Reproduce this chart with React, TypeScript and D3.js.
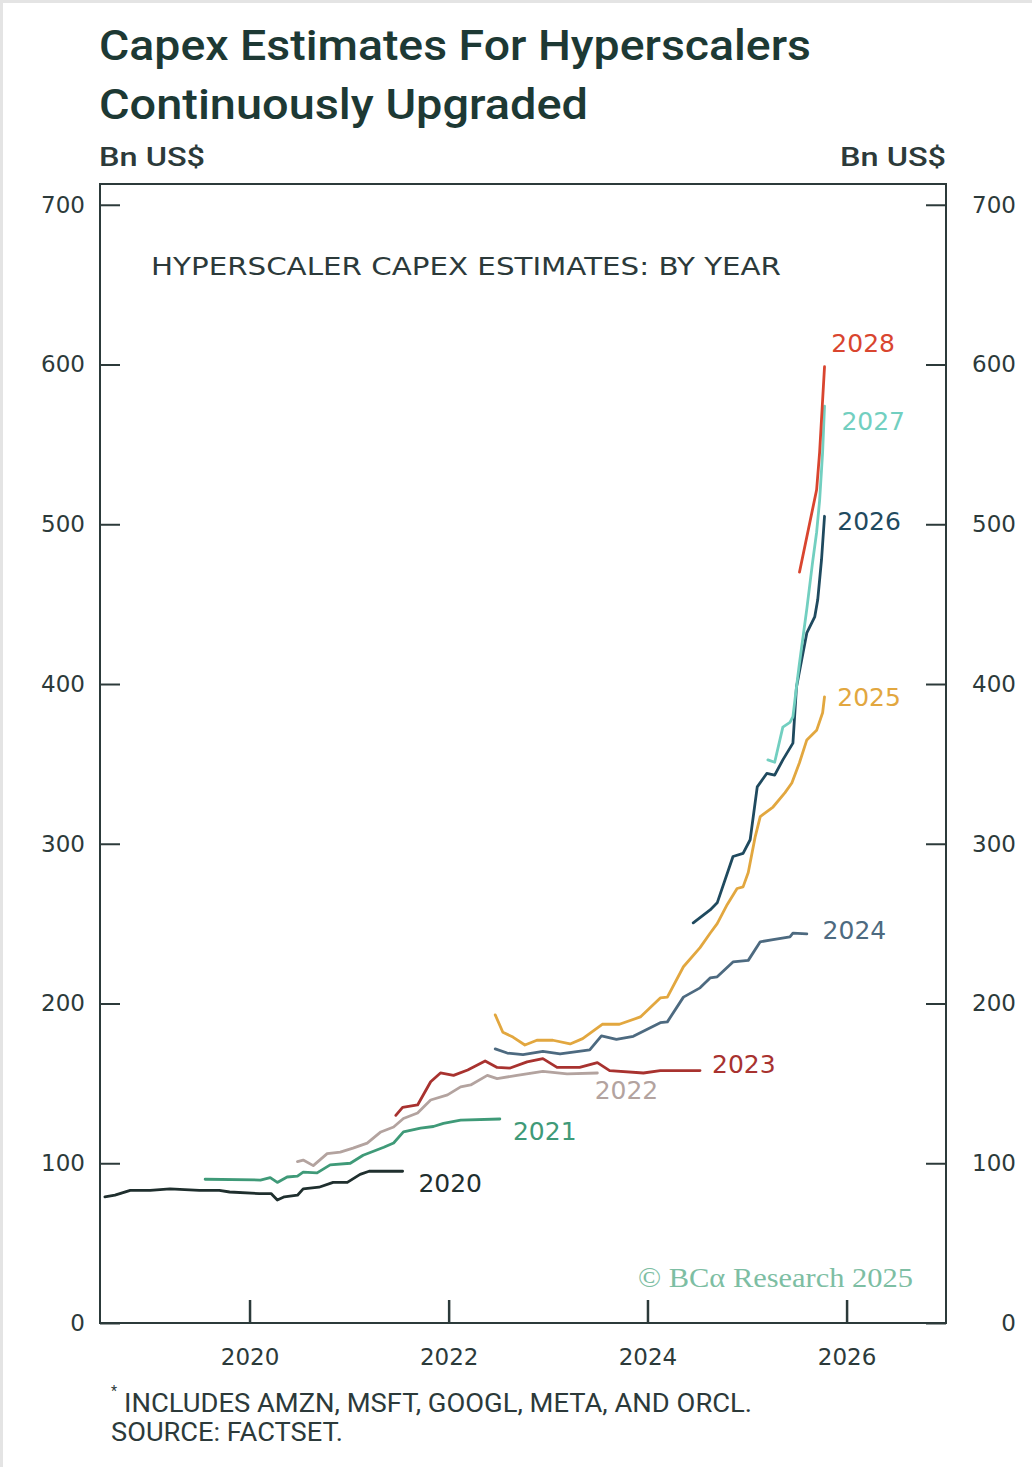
import React, { useEffect, useRef } from 'react';
import * as d3 from 'd3';

const WIDTH = 1032;
const HEIGHT = 1467;
const margin = { top: 184, right: 86, bottom: 144, left: 100 };

// estimate vintages (the fiscal year each line is forecasting)
const vintages = ['2020', '2021', '2022', '2023', '2024', '2025', '2026', '2027', '2028'];

const vintageColors = ['#1f2f2e', '#3f9a78', '#b3a39f', '#a8322f', '#4d6a80', '#e2a73f', '#1f4a5f', '#72cfc0', '#d9452f'];

const est2020: [string, number][] = [
  ['2018-07-19', 79], ['2018-08-25', 80], ['2018-10-20', 83], ['2019-01-01', 83], ['2019-03-15', 84],
  ['2019-07-01', 83], ['2019-09-12', 83], ['2019-10-20', 82], ['2020-02-06', 81], ['2020-03-20', 81],
  ['2020-04-12', 77], ['2020-05-08', 79], ['2020-06-25', 80], ['2020-07-16', 84], ['2020-09-12', 85],
  ['2020-11-03', 88], ['2020-12-25', 88], ['2021-02-10', 93], ['2021-03-15', 95], ['2021-07-16', 95]
];

const est2021: [string, number][] = [
  ['2019-07-22', 90], ['2020-02-10', 89.5], ['2020-03-17', 91], ['2020-04-12', 88], ['2020-05-18', 91.4],
  ['2020-06-25', 92], ['2020-07-16', 94.5], ['2020-09-05', 94], ['2020-10-23', 99], ['2021-01-05', 100],
  ['2021-02-21', 105], ['2021-05-08', 110], ['2021-06-13', 112.7], ['2021-07-19', 119.6], ['2021-09-20', 122],
  ['2021-11-06', 123], ['2021-12-13', 125], ['2022-02-14', 127], ['2022-07-08', 127.7]
];

const est2022: [string, number][] = [
  ['2020-06-25', 101], ['2020-07-16', 102], ['2020-08-22', 98.5], ['2020-10-12', 106], ['2020-11-29', 107],
  ['2021-01-15', 109.5], ['2021-03-08', 112.6], ['2021-04-27', 119.6], ['2021-06-13', 122.7], ['2021-07-19', 128],
  ['2021-09-09', 131.5], ['2021-10-27', 139.6], ['2021-12-28', 142.8], ['2022-02-14', 147.8], ['2022-03-23', 149],
  ['2022-05-23', 155], ['2022-06-28', 153], ['2022-09-09', 155], ['2022-12-13', 157.5], ['2023-03-12', 156],
  ['2023-07-01', 156.5]
];

const est2023: [string, number][] = [
  ['2021-06-21', 130], ['2021-07-16', 135], ['2021-09-09', 136.5], ['2021-10-27', 151], ['2021-12-02', 156.5],
  ['2022-01-19', 155], ['2022-03-12', 158.4], ['2022-05-15', 164], ['2022-06-28', 160], ['2022-08-15', 159.6],
  ['2022-10-16', 163.5], ['2022-12-13', 165.5], ['2023-02-03', 160], ['2023-04-27', 160], ['2023-07-01', 163],
  ['2023-08-15', 158], ['2023-12-17', 156.5], ['2024-02-17', 158], ['2024-07-12', 158]
];

const est2024: [string, number][] = [
  ['2022-06-21', 171.6], ['2022-08-04', 169], ['2022-10-01', 168], ['2022-12-13', 170], ['2023-02-14', 168.4],
  ['2023-06-03', 171], ['2023-07-16', 179.7], ['2023-09-09', 177.5], ['2023-11-10', 179.5], ['2024-02-17', 188],
  ['2024-03-14', 188.5], ['2024-05-12', 204], ['2024-07-12', 209.8], ['2024-08-18', 216], ['2024-09-13', 216.7],
  ['2024-11-10', 226], ['2025-01-05', 227], ['2025-02-18', 238.6], ['2025-04-06', 240], ['2025-06-07', 241.7],
  ['2025-06-18', 244], ['2025-08-08', 243.6]
];

const est2025: [string, number][] = [
  ['2022-06-21', 192.9], ['2022-07-19', 182], ['2022-08-25', 179], ['2022-10-08', 174], ['2022-11-21', 177],
  ['2023-01-19', 177], ['2023-03-23', 174.7], ['2023-05-08', 178], ['2023-07-19', 187], ['2023-09-20', 187],
  ['2023-12-06', 191.6], ['2024-02-17', 203.5], ['2024-03-14', 204], ['2024-05-12', 223], ['2024-07-12', 235],
  ['2024-08-18', 244], ['2024-09-13', 250], ['2024-10-20', 262], ['2024-11-25', 272], ['2024-12-17', 273],
  ['2025-01-05', 282], ['2025-01-30', 304], ['2025-02-18', 317], ['2025-04-06', 323], ['2025-05-20', 332],
  ['2025-06-14', 338], ['2025-07-12', 350.7], ['2025-08-08', 365], ['2025-09-13', 371], ['2025-10-05', 382],
  ['2025-10-12', 392]
];

const est2026: [string, number][] = [
  ['2024-06-17', 250.5], ['2024-08-18', 258.6], ['2024-09-13', 263], ['2024-11-10', 292], ['2024-12-17', 294],
  ['2025-01-12', 302.5], ['2025-02-07', 335.6], ['2025-03-14', 344], ['2025-04-12', 343], ['2025-05-12', 352.5],
  ['2025-06-18', 363], ['2025-07-01', 398], ['2025-07-20', 415], ['2025-08-08', 432], ['2025-09-06', 442],
  ['2025-09-17', 452.7], ['2025-10-01', 477.8], ['2025-10-12', 505]
];

const est2027: [string, number][] = [
  ['2025-03-18', 352.5], ['2025-04-12', 351], ['2025-05-12', 373], ['2025-06-07', 376], ['2025-06-18', 379.5],
  ['2025-07-01', 398], ['2025-07-12', 413], ['2025-08-08', 447], ['2025-08-29', 476], ['2025-09-13', 495],
  ['2025-09-24', 515], ['2025-10-05', 545], ['2025-10-12', 574]
];

const est2028: [string, number][] = [
  ['2025-07-12', 470], ['2025-09-13', 521.6], ['2025-09-24', 545], ['2025-10-12', 598.6]
];

const estimates = [est2020, est2021, est2022, est2023, est2024, est2025, est2026, est2027, est2028];

// where each vintage name sits (date, value)
const labelAnchors: [string, number][] = [
  ['2021-09-12', 87.7], ['2022-08-25', 120.2], ['2023-06-21', 145.9], ['2024-08-25', 162.2], ['2025-10-05', 246.1],
  ['2025-11-28', 392], ['2025-11-28', 502.2], ['2025-12-13', 564.8], ['2025-11-06', 613.6]
];

const yTicks = [0, 100, 200, 300, 400, 500, 600, 700];
const xTickYears = ['2020-01-01', '2022-01-01', '2024-01-01', '2026-01-01'];

const parseDate = d3.timeParse('%Y-%m-%d');

const App: React.FC = () => {
  const svgRef = useRef<SVGSVGElement>(null);

  useEffect(() => {
    if (!svgRef.current) return;
    const svg = d3.select(svgRef.current);
    svg.selectAll('*').remove();

    const x0 = margin.left;
    const x1 = WIDTH - margin.right;
    const y0 = HEIGHT - margin.bottom;
    const y1 = margin.top;

    const xScale = d3
      .scaleTime()
      .domain([parseDate('2018-07-01') as Date, parseDate('2027-01-01') as Date])
      .range([x0, x1]);

    const yScale = d3.scaleLinear().domain([0, 713]).range([y0, y1]);

    const ink = '#2c3a3a';
    const tickFont = '"DejaVu Sans", sans-serif';

    svg.append('rect').attr('width', WIDTH).attr('height', HEIGHT).attr('fill', '#ffffff');
    // faint scan border of the original image
    svg.append('path').attr('d', `M1.5,${HEIGHT} V1.5 H${WIDTH}`).attr('fill', 'none')
      .attr('stroke', '#e4e4e4').attr('stroke-width', 3);

    // Title
    const title = svg.append('g').attr('fill', '#1d3934').style('font-family', 'Roboto, sans-serif').style('font-weight', '500');
    title.append('text').attr('x', 99).attr('y', 60).style('font-size', '42px')
      .attr('textLength', 712).attr('lengthAdjust', 'spacingAndGlyphs')
      .text('Capex Estimates For Hyperscalers');
    title.append('text').attr('x', 99).attr('y', 119).style('font-size', '42px')
      .attr('textLength', 489).attr('lengthAdjust', 'spacingAndGlyphs')
      .text('Continuously Upgraded');

    // Unit labels
    svg.append('text').attr('x', 99).attr('y', 166).attr('fill', ink)
      .style('font-family', 'Roboto, sans-serif').style('font-weight', '500').style('font-size', '25px')
      .attr('textLength', 106).attr('lengthAdjust', 'spacingAndGlyphs')
      .text('Bn US$');
    svg.append('text').attr('x', 840).attr('y', 166).attr('fill', ink)
      .style('font-family', 'Roboto, sans-serif').style('font-weight', '500').style('font-size', '25px')
      .attr('textLength', 106).attr('lengthAdjust', 'spacingAndGlyphs')
      .text('Bn US$');

    // Y axes (ticks inside the frame)
    const yLeft = d3.axisLeft(yScale).tickValues(yTicks).tickSizeInner(-20).tickSizeOuter(0).tickPadding(15);
    const yRight = d3.axisRight(yScale).tickValues(yTicks).tickSizeInner(-20).tickSizeOuter(0).tickPadding(70);

    const gl = svg.append('g').attr('transform', `translate(${x0},0)`).call(yLeft);
    const gr = svg.append('g').attr('transform', `translate(${x1},0)`).call(yRight);
    [gl, gr].forEach(g => {
      g.select('.domain').remove();
      g.selectAll('line').attr('stroke', ink).attr('stroke-width', 2);
      g.selectAll('text').attr('fill', ink).style('font-family', tickFont).style('font-size', '23px');
    });
    gr.selectAll('text').attr('text-anchor', 'end');

    // X axis
    const xAxis = d3
      .axisBottom(xScale)
      .tickValues(xTickYears.map(d => parseDate(d) as Date))
      .tickSizeInner(-23)
      .tickSizeOuter(0)
      .tickPadding(26)
      .tickFormat(d => d3.timeFormat('%Y')(d as Date));
    const gx = svg.append('g').attr('transform', `translate(0,${y0})`).call(xAxis);
    gx.select('.domain').remove();
    gx.selectAll('line').attr('stroke', ink).attr('stroke-width', 2.5);
    gx.selectAll('text').attr('fill', ink).style('font-family', tickFont).style('font-size', '23px');

    // Frame
    svg.append('rect')
      .attr('x', x0).attr('y', y1).attr('width', x1 - x0).attr('height', y0 - y1)
      .attr('fill', 'none').attr('stroke', ink).attr('stroke-width', 2);

    // Panel header
    svg.append('text').attr('x', 151).attr('y', 275).attr('fill', ink)
      .style('font-family', '"DejaVu Sans", sans-serif').style('font-size', '24px')
      .attr('textLength', 630).attr('lengthAdjust', 'spacingAndGlyphs')
      .text('HYPERSCALER CAPEX ESTIMATES: BY YEAR');

    // Lines
    const line = d3
      .line<[string, number]>()
      .x(d => xScale(parseDate(d[0]) as Date))
      .y(d => yScale(d[1]));

    estimates.forEach((series, i) => {
      svg.append('path')
        .datum(series)
        .attr('d', line)
        .attr('fill', 'none')
        .attr('stroke', vintageColors[i])
        .attr('stroke-width', 2.8)
        .attr('stroke-linejoin', 'round')
        .attr('stroke-linecap', 'round');
    });

    // Vintage labels
    vintages.forEach((name, i) => {
      const [d, v] = labelAnchors[i];
      svg.append('text')
        .attr('x', xScale(parseDate(d) as Date))
        .attr('y', yScale(v))
        .attr('dy', '0.36em')
        .attr('fill', vintageColors[i])
        .style('font-family', tickFont)
        .style('font-size', '25px')
        .text(name);
    });

    // Copyright
    svg.append('text').attr('x', 638).attr('y', 1287).attr('fill', '#7dbea3')
      .style('font-family', '"Liberation Serif", serif').style('font-size', '28px')
      .attr('textLength', 275).attr('lengthAdjust', 'spacingAndGlyphs')
      .text('© BCα Research 2025');

    // Footnotes
    const foot = svg.append('g').attr('fill', ink).style('font-family', 'Roboto, sans-serif').style('font-size', '25px');
    foot.append('text').attr('x', 111).attr('y', 1396).style('font-size', '14px').text('*');
    foot.append('text').attr('x', 124).attr('y', 1412)
      .attr('textLength', 628).attr('lengthAdjust', 'spacingAndGlyphs')
      .text('INCLUDES AMZN, MSFT, GOOGL, META, AND ORCL.');
    foot.append('text').attr('x', 111).attr('y', 1441)
      .attr('textLength', 232).attr('lengthAdjust', 'spacingAndGlyphs')
      .text('SOURCE: FACTSET.');
  }, []);

  return (
    <svg
      ref={svgRef}
      width={WIDTH}
      height={HEIGHT}
      style={{ position: 'absolute', left: 0, top: 0, display: 'block' }}
    />
  );
};

export default App;
